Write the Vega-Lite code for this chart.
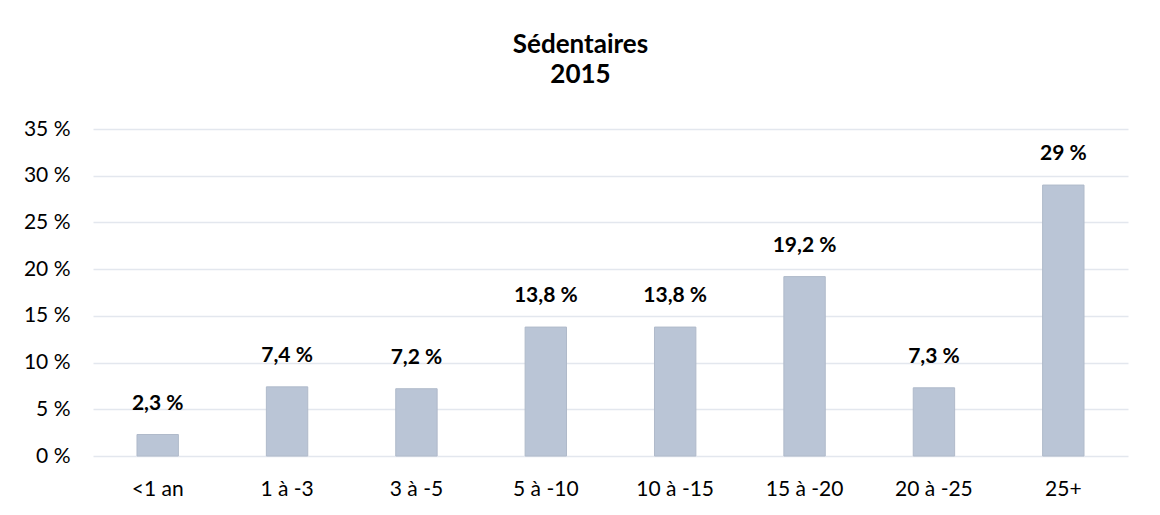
{
  "$schema": "https://vega.github.io/schema/vega-lite/v6.json",
  "autosize": "none",
  "width": 1035,
  "height": 327,
  "padding": {"left": 93, "top": 129, "right": 32, "bottom": 59},
  "background": "white",
  "title": {
    "text": ["Sédentaires", "2015"],
    "font": "Lato",
    "fontSize": 26,
    "fontWeight": "bold",
    "color": "#000000",
    "lineHeight": 30,
    "anchor": "middle",
    "dx": -30,
    "offset": 30
  },
  "data": {
    "values": [
      {"cat": "<1 an", "pct": 2.3},
      {"cat": "1 à -3", "pct": 7.4},
      {"cat": "3 à -5", "pct": 7.2},
      {"cat": "5 à -10", "pct": 13.8},
      {"cat": "10 à -15", "pct": 13.8},
      {"cat": "15 à -20", "pct": 19.2},
      {"cat": "20 à -25", "pct": 7.3},
      {"cat": "25+", "pct": 29}
    ]
  },
  "transform": [
    {"calculate": "replace(format(datum.pct, '~g'), '.', ',') + ' %'", "as": "label"}
  ],
  "encoding": {
    "x": {
      "field": "cat",
      "type": "nominal",
      "sort": null,
      "scale": {"paddingInner": 0.68, "paddingOuter": 0.34},
      "axis": {
        "title": null,
        "labelAngle": 0,
        "labelFont": "Lato",
        "labelFontSize": 21,
        "labelColor": "#000000",
        "labelPadding": 22,
        "ticks": false,
        "domain": false,
        "grid": false
      }
    },
    "y": {
      "field": "pct",
      "type": "quantitative",
      "scale": {"domain": [0, 35], "nice": false},
      "axis": {
        "title": null,
        "values": [0, 5, 10, 15, 20, 25, 30, 35],
        "labelExpr": "datum.value + ' %'",
        "labelFont": "Lato",
        "labelFontSize": 21,
        "labelColor": "#000000",
        "labelPadding": 23,
        "ticks": false,
        "domain": false,
        "grid": true,
        "gridColor": "#E3E7EE",
        "gridWidth": 1.5
      }
    }
  },
  "layer": [
    {
      "mark": {"type": "bar", "fill": "#BAC5D6", "stroke": "#B0BACA", "strokeWidth": 1}
    },
    {
      "mark": {"type": "text", "baseline": "bottom", "dy": -21, "font": "Lato", "fontSize": 21, "fontWeight": "bold", "color": "#000000"},
      "encoding": {"text": {"field": "label", "type": "nominal"}}
    }
  ],
  "config": {"view": {"stroke": null}}
}
